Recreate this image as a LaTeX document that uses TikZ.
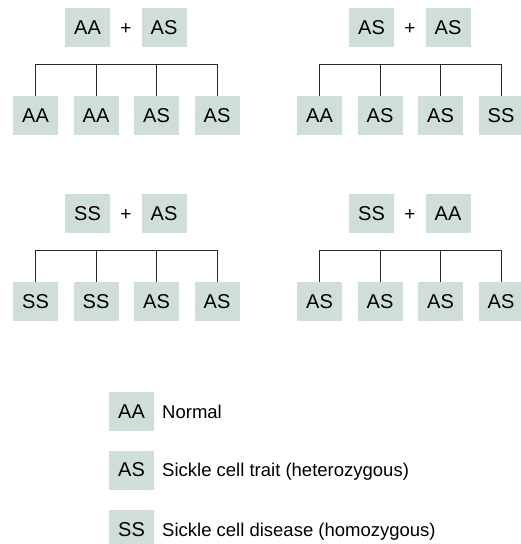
\documentclass[tikz,border=0pt]{standalone}
\usepackage{fontspec}
\setmainfont{Liberation Sans}
\definecolor{boxfill}{RGB}{208,222,218}
\definecolor{linecol}{RGB}{40,40,40}
\tikzset{
  gbox/.style={fill=boxfill, draw=none, inner sep=0pt, minimum width=45pt, minimum height=39pt, font=\fontsize{20}{20}\selectfont},
  plussign/.style={inner sep=0pt, anchor=base, font=\fontsize{19}{19}\selectfont},
  legtext/.style={inner sep=0pt, anchor=base west, font=\fontsize{18.5}{18.5}\selectfont},
  tree/.style={draw=linecol, line width=0.9pt}
}
\begin{document}
\begin{tikzpicture}[x=1pt,y=-1pt]
\useasboundingbox (0,0) rectangle (521,544);
\clip (0,0) rectangle (521,544);
% ---------- top left: AA + AS ----------
\node[gbox] (a1) at (87.5,27.5) {AA};
\node[gbox] (a2) at (164,27.5) {AS};
\coordinate (ax) at (126,0);
\node[plussign] (ap) at (a1.base -| ax) {+};
\node[gbox] (ac1) at (35.5,115.5) {AA};
\node[gbox] (ac2) at (96,115.5) {AA};
\node[gbox] (ac3) at (156.5,115.5) {AS};
\node[gbox] (ac4) at (217,115.5) {AS};
\coordinate (abar) at (126,64);
\draw[tree] (ac1.north) -- (ac1.north |- abar) -- (ac4.north |- abar) -- (ac4.north);
\draw[tree] (ac2.north) -- (ac2.north |- abar);
\draw[tree] (ac3.north) -- (ac3.north |- abar);
% ---------- top right: AS + AS ----------
\node[gbox] (b1) at (371.5,27.5) {AS};
\node[gbox] (b2) at (448,27.5) {AS};
\coordinate (bx) at (410,0);
\node[plussign] (bp) at (b1.base -| bx) {+};
\node[gbox] (bc1) at (319.5,115.5) {AA};
\node[gbox] (bc2) at (380,115.5) {AS};
\node[gbox] (bc3) at (440.5,115.5) {AS};
\node[gbox] (bc4) at (501,115.5) {SS};
\coordinate (bbar) at (410,64);
\draw[tree] (bc1.north) -- (bc1.north |- bbar) -- (bc4.north |- bbar) -- (bc4.north);
\draw[tree] (bc2.north) -- (bc2.north |- bbar);
\draw[tree] (bc3.north) -- (bc3.north |- bbar);
% ---------- bottom left: SS + AS ----------
\node[gbox] (c1) at (87.5,213.5) {SS};
\node[gbox] (c2) at (164,213.5) {AS};
\node[plussign] (cp) at (c1.base -| ax) {+};
\node[gbox] (cc1) at (35.5,301.5) {SS};
\node[gbox] (cc2) at (96,301.5) {SS};
\node[gbox] (cc3) at (156.5,301.5) {AS};
\node[gbox] (cc4) at (217,301.5) {AS};
\coordinate (cbar) at (126,250.5);
\draw[tree] (cc1.north) -- (cc1.north |- cbar) -- (cc4.north |- cbar) -- (cc4.north);
\draw[tree] (cc2.north) -- (cc2.north |- cbar);
\draw[tree] (cc3.north) -- (cc3.north |- cbar);
% ---------- bottom right: SS + AA ----------
\node[gbox] (d1) at (371.5,213.5) {SS};
\node[gbox] (d2) at (448,213.5) {AA};
\node[plussign] (dp) at (d1.base -| bx) {+};
\node[gbox] (dc1) at (319.5,301.5) {AS};
\node[gbox] (dc2) at (380,301.5) {AS};
\node[gbox] (dc3) at (440.5,301.5) {AS};
\node[gbox] (dc4) at (501,301.5) {AS};
\coordinate (dbar) at (410,250.5);
\draw[tree] (dc1.north) -- (dc1.north |- dbar) -- (dc4.north |- dbar) -- (dc4.north);
\draw[tree] (dc2.north) -- (dc2.north |- dbar);
\draw[tree] (dc3.north) -- (dc3.north |- dbar);
% ---------- legend ----------
\coordinate (lx) at (162,0);
\node[gbox] (l1) at (131.5,411.5) {AA};
\node[gbox] (l2) at (131.5,470) {AS};
\node[gbox] (l3) at (131.5,529.5) {SS};
\node[legtext] (t1) at (l1.base -| lx) {Normal};
\node[legtext] (t2) at (l2.base -| lx) {Sickle cell trait (heterozygous)};
\node[legtext] (t3) at (l3.base -| lx) {Sickle cell disease (homozygous)};
\end{tikzpicture}
\end{document}
